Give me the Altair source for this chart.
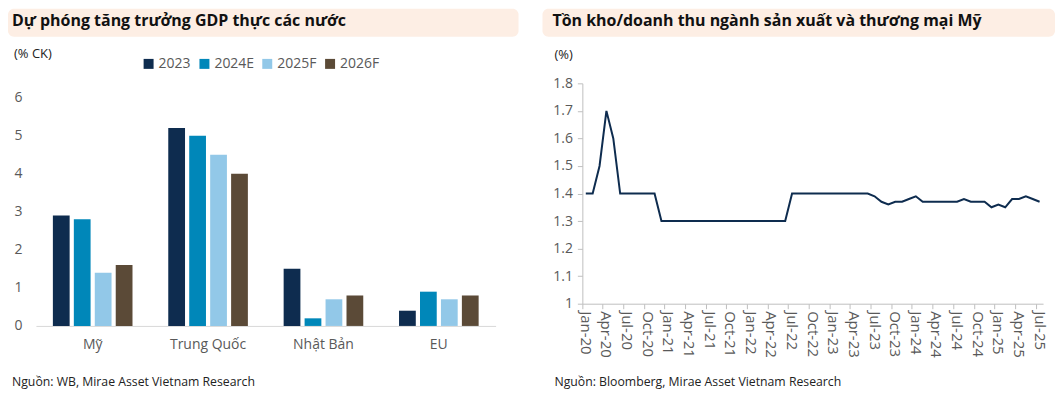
import altair as alt
import pandas as pd

FONT = "Open Sans"
GRAY = "#595959"
HDR = "#fdeee4"

# ---- Left chart data ----
countries = ["Mỹ", "Trung Quốc", "Nhật Bản", "EU"]
years = ["2023", "2024E", "2025F", "2026F"]
gdp_2023 = [2.9, 5.2, 1.5, 0.4]
gdp_2024e = [2.8, 5.0, 0.2, 0.9]
gdp_2025f = [1.4, 4.5, 0.7, 0.7]
gdp_2026f = [1.6, 4.0, 0.8, 0.8]
bar_colors = ["#0e2c4f", "#0087b9", "#92c8e8", "#5b4a37"]
left_ticks = [0, 1, 2, 3, 4, 5, 6]

# ---- Right chart data ----
months = list(pd.date_range("2020-01-01", periods=67, freq="MS").strftime("%b-%y"))
inv_ratio = [
    1.40, 1.40, 1.50, 1.70, 1.60, 1.40, 1.40, 1.40, 1.40, 1.40, 1.40, 1.30,   # 2020
    1.30, 1.30, 1.30, 1.30, 1.30, 1.30, 1.30, 1.30, 1.30, 1.30, 1.30, 1.30,   # 2021
    1.30, 1.30, 1.30, 1.30, 1.30, 1.30, 1.40, 1.40, 1.40, 1.40, 1.40, 1.40,   # 2022
    1.40, 1.40, 1.40, 1.40, 1.40, 1.40, 1.39, 1.37, 1.36, 1.37, 1.37, 1.38,   # 2023
    1.39, 1.37, 1.37, 1.37, 1.37, 1.37, 1.37, 1.38, 1.37, 1.37, 1.37, 1.35,   # 2024
    1.36, 1.35, 1.38, 1.38, 1.39, 1.38, 1.37,                                 # 2025
]
tick_months = months[::3]
right_ticks = [1.0, 1.1, 1.2, 1.3, 1.4, 1.5, 1.6, 1.7, 1.8]

gdp_rows = []
for yr, vals in zip(years, [gdp_2023, gdp_2024e, gdp_2025f, gdp_2026f]):
    for c, v in zip(countries, vals):
        gdp_rows.append({"country": c, "year": yr, "value": v})
gdp_df = pd.DataFrame(gdp_rows)
ratio_df = pd.DataFrame({"month": months, "ratio": inv_ratio})

one = alt.Data(values=[{"k": 1}])


def txt(s, x, y, size=13, bold=False, color="#222222"):
    return alt.Chart(one).mark_text(
        text=s, align="left", baseline="middle", font=FONT, fontSize=size,
        fontWeight="bold" if bold else "normal", color=color
    ).encode(x=alt.value(x), y=alt.value(y))


def header(x1, x2, y1, y2):
    return alt.Chart(one).mark_rect(color=HDR, cornerRadius=6).encode(
        x=alt.value(x1), x2=alt.value(x2), y=alt.value(y1), y2=alt.value(y2))


# Both panels share the same view top (page y ~ 82.7).
# Left: 0..6 spans 229 px, view extended 14.3 px above the "6" line.
LEFT_H = 243.3
LEFT_TOP = 6 * LEFT_H / 229.0

bars = alt.Chart(gdp_df).mark_bar().encode(
    x=alt.X("country:N", sort=countries,
            scale=alt.Scale(paddingInner=0.31, paddingOuter=0.147),
            axis=alt.Axis(title=None, labelAngle=0, ticks=False, domainColor="#d9d9d9",
                          labelFontSize=14, labelColor=GRAY, labelPadding=12, labelFont=FONT)),
    xOffset=alt.XOffset("year:N", sort=years, scale=alt.Scale(paddingInner=0.2, paddingOuter=0)),
    y=alt.Y("value:Q", scale=alt.Scale(domain=[0, LEFT_TOP], nice=False),
            axis=alt.Axis(title=None, values=left_ticks, grid=False, domain=False, ticks=False,
                          labelFontSize=14, labelColor=GRAY, labelPadding=14, labelFont=FONT)),
    color=alt.Color("year:N", sort=years, scale=alt.Scale(domain=years, range=bar_colors),
                    legend=alt.Legend(title=None, orient="none", legendX=106, legendY=-26.5,
                                      direction="horizontal", symbolType="square", symbolSize=100,
                                      labelFontSize=14, labelColor=GRAY, labelFont=FONT,
                                      columnPadding=6, labelOffset=3, symbolStrokeWidth=0)),
)

left = alt.layer(
    header(-28, 484, -74.7, -46.7),
    txt("Dự phóng tăng trưởng GDP thực các nước", -24, -62.7, size=16, bold=True, color="#111111"),
    txt("(% CK)", -22, -29.7, size=13),
    bars,
    txt("Nguồn: WB, Mirae Asset Vietnam Research", -24, 299.3, size=12.3),
).properties(width=461, height=LEFT_H)

# ---- Right panel ----
line = alt.Chart(ratio_df).mark_line(color="#0e2c4f", strokeWidth=2).encode(
    x=alt.X("month:O", sort=months,
            scale=alt.Scale(type="band", paddingInner=0, paddingOuter=0),
            axis=alt.Axis(title=None, values=tick_months, bandPosition=0, labelAngle=90,
                          labelAlign="left", labelBaseline="middle", ticks=True, tickSize=5,
                          tickColor="#bfbfbf", domainColor="#bfbfbf", labelFontSize=15,
                          labelColor=GRAY, labelPadding=2, grid=False, labelOverlap=False,
                          labelFont=FONT)),
    y=alt.Y("ratio:Q", scale=alt.Scale(domain=[1, 1.8], nice=False, zero=False),
            axis=alt.Axis(title=None, values=right_ticks, format=".1~f", grid=False, tickSize=5,
                          tickColor="#bfbfbf", domainColor="#bfbfbf", labelFontSize=14,
                          labelColor=GRAY, labelPadding=5, labelFont=FONT)),
)

right = alt.layer(
    header(-40, 474, -74.7, -46.7),
    txt("Tồn kho/doanh thu ngành sản xuất và thương mại Mỹ", -30, -62.7, size=16, bold=True,
        color="#111111"),
    txt("(%)", -28, -28.7, size=13),
    line,
    txt("Nguồn: Bloomberg, Mirae Asset Vietnam Research", -28, 299.3, size=12.3),
).properties(width=462, height=221)

chart = alt.hconcat(left, right, spacing=24).properties(padding=0).configure_view(stroke=None)

chart.save("out.html", embed_options={"renderer": "svg", "actions": False})
